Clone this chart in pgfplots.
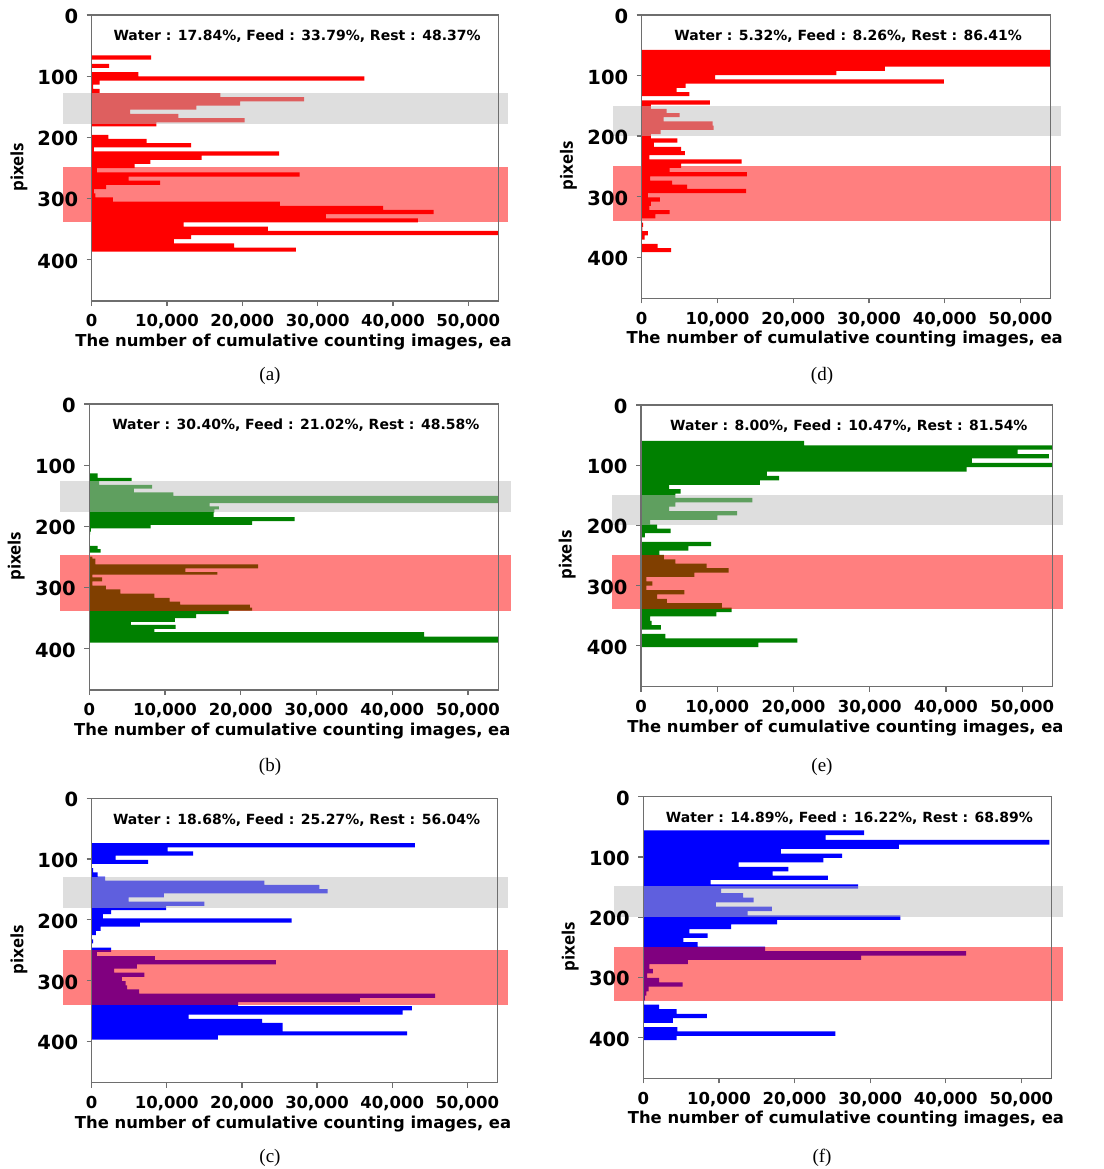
\documentclass[border=0pt]{standalone}
\usepackage{fontspec}
\setmainfont{DejaVu Sans}
\newfontfamily\labfont{Open Sans}
\newfontfamily\capfont{Liberation Serif}
\usepackage{pgfplots}
\usepackage{pgfplotstable}
\pgfplotsset{compat=1.18}
\definecolor{myred}{RGB}{255,0,0}
\definecolor{mygreen}{RGB}{0,128,0}
\definecolor{myblue}{RGB}{0,0,255}
\definecolor{bandgray}{RGB}{190,190,190}
\definecolor{axgray}{RGB}{110,110,110}

\pgfplotstableread{
y v
66.2 7900
73.0 0
79.9 2300
86.7 0
93.5 6200
100.3 36200
107.2 1050
114.0 200
120.8 1050
127.7 17100
134.5 28200
141.3 19700
148.2 13900
155.0 5100
161.8 11500
168.7 20300
175.5 8600
182.3 0
189.2 0
196.0 2200
202.8 7300
209.7 13200
216.5 300
223.3 24900
230.2 14600
237.0 7800
243.8 5700
250.7 700
257.5 27600
264.3 4900
271.2 9100
278.0 1900
284.8 300
291.7 500
298.5 2800
305.3 25000
312.2 38700
319.0 45400
325.8 31100
332.7 43300
339.5 12200
346.3 23400
353.2 54000
360.0 13200
366.8 10900
373.7 18900
380.5 27100
387.3 0
}\tabA

\pgfplotstableread{
y v
113.7 1100
120.8 5600
126.3 1300
132.4 8300
138.4 5900
144.5 11100
150.5 54000
162.1 15900
167.6 17100
172.5 16500
177.5 16400
185.2 27100
191.8 21500
197.9 8100
203.4 200
208.9 100
213.8 0
232.0 1100
237.5 1500
243.0 0
249.6 400
252.9 800
262.3 22300
268.9 12700
274.9 16900
279.3 400
283.7 1700
290.3 400
297.0 2200
303.5 4100
310.1 8600
317.3 10600
323.3 12000
328.3 21200
333.3 21500
338.2 18400
343.7 14100
350.3 11300
356.4 5500
361.3 11400
367.9 8600
373.4 44200
380.6 54000
390.5 0
}\tabB

\pgfplotstableread{
y v
73.7 43000
80.6 10100
87.5 13500
94.4 3200
101.2 7500
108.1 0
115.0 200
121.9 800
128.8 1800
135.7 23000
142.6 30300
149.4 31400
156.3 9600
163.2 4900
170.1 15000
177.0 9900
183.9 2600
190.7 1500
197.6 26600
204.5 6400
211.4 1200
218.3 550
225.2 0
232.1 200
238.9 0
245.8 2600
252.7 700
259.6 8400
266.5 24500
273.4 6000
280.3 3000
287.1 7000
294.0 4000
300.9 4500
307.8 4700
314.7 6300
321.6 45700
328.4 35700
335.3 19500
342.2 42600
349.1 41400
356.0 12900
362.9 22700
369.8 25400
376.6 25400
383.5 42000
390.4 16800
397.3 0
}\tabC

\pgfplotstableread{
y v
57.5 54000
64.5 54000
71.4 54000
78.4 54000
85.4 32100
92.3 25700
99.3 9700
106.3 39900
113.2 5800
120.2 4600
127.2 6300
134.1 0
141.1 9000
148.0 1200
155.0 3300
162.0 5000
168.9 2900
175.9 9350
182.9 9500
189.8 2500
196.8 1200
203.8 4700
210.7 1600
217.7 5200
224.7 5700
231.6 1000
238.6 13200
245.6 5200
252.5 3700
259.5 13900
266.5 1100
273.4 4000
280.4 6000
287.3 13800
294.3 800
301.3 2400
308.2 1200
315.2 1000
322.2 3700
329.1 1800
336.1 0
343.1 200
350.0 100
357.0 800
364.0 400
370.9 0
377.9 2100
384.9 3900
391.8 0
}\tabD

\pgfplotstableread{
y v
59.6 21400
66.9 54000
74.2 49400
81.5 53500
88.8 43400
96.1 54000
103.3 42700
110.6 16500
117.9 18100
125.2 15600
132.5 3700
139.8 5200
147.1 4500
154.4 14600
161.7 4500
169.0 3700
176.2 12600
183.5 10000
190.8 1200
198.1 2100
205.4 3900
212.7 500
220.0 100
227.3 9200
234.6 6200
241.9 2400
249.1 3000
256.4 4500
263.7 8600
271.0 11500
278.3 7000
285.6 700
292.9 1500
300.2 700
307.5 5700
314.8 2100
322.0 3400
329.3 10600
336.6 11900
343.9 9900
351.2 1200
358.5 1400
365.8 2600
373.1 0
380.4 3200
387.7 20500
394.9 15400
402.2 0
}\tabE

\pgfplotstableread{
y v
56.1 29200
63.9 24100
71.7 53700
79.4 33800
86.7 18200
94.4 26300
101.7 23800
108.9 12600
116.7 19200
123.9 17100
131.1 24400
138.3 8900
145.6 28400
152.8 10300
160.0 13200
167.8 14600
175.6 9600
182.8 17000
190.0 13800
197.2 34000
204.4 17700
212.2 11600
220.0 6100
227.2 8500
234.4 5300
241.7 7200
248.9 16100
256.7 42700
263.9 28800
271.1 5900
278.3 800
286.1 1250
293.3 500
301.1 2100
308.3 5200
315.6 700
323.3 400
330.6 200
338.3 100
345.6 2100
352.8 4400
360.6 8400
367.8 3900
375.6 0
382.8 4500
390.0 25400
397.2 4400
404.4 0
}\tabF

\pgfplotsset{
  panel/.style={
    scale only axis,
    anchor=north west,
    xmin=0, xmax=54000, ymin=0, ymax=468,
    y dir=reverse,
    xtick={0,10000,20000,30000,40000,50000},
    ytick={0,100,200,300,400},
    scaled x ticks=false,
    tick pos=left,
    tick align=outside,
    major tick length=5pt,
    /pgf/number format/assume math mode=true,
    /pgf/number format/1000 sep={,},
    xticklabel style={font=\fontsize{16.5}{18}\selectfont\bfseries, yshift=-5pt},
    yticklabel style={font=\fontsize{19.5}{21}\selectfont\bfseries, xshift=-5pt, yshift=-1.5pt},
    axis line style={draw=axgray, line width=1.3pt},
    every tick/.style={draw=axgray, line width=1.2pt},
    clip=false,
    axis on top,
    xlabel={The number of cumulative counting images, ea},
    ylabel={pixels},
    xlabel style={font=\fontsize{16.4}{18}\selectfont\bfseries, at={(axis description cs:0.5,0)}, anchor=center, yshift=-41pt, xshift=-1.5pt},
    ylabel style={font=\labfont\fontsize{17}{19}\selectfont\bfseries, at={(axis description cs:-0.179,0.468)}, anchor=center},
  },
  bars/.style={xbar interval, fill=#1, draw=none},
  bandg/.style={draw=none, fill=bandgray, fill opacity=0.5},
  bandr/.style={draw=none, fill=myred, fill opacity=0.5},
}
\tikzset{
  anno/.style={font=\fontsize{14}{16}\selectfont\bfseries, anchor=center, yshift=-21.5pt, xshift=2pt},
  subcap/.style={font=\capfont\fontsize{19}{21}\selectfont},
}

\begin{document}
\begin{tikzpicture}
% (a)
\begin{axis}[panel, at={(91.7pt,-15pt)}, width=406.7pt, height=286pt]
\addplot[bars=myred] table[x=v, y=y] {\tabA};
\addplot[bandg] coordinates {(-3850,128) (55300,128) (55300,179) (-3850,179)} --cycle;
\addplot[bandr] coordinates {(-3850,248.6) (55300,248.6) (55300,339.3) (-3850,339.3)} --cycle;
\node[anno] at (axis description cs:0.5,1) {Water : 17.84\%, Feed : 33.79\%, Rest : 48.37\%};
\end{axis}
% (b)
\begin{axis}[panel, at={(89.3pt,-404pt)}, width=409pt, height=286pt]
\addplot[bars=mygreen] table[x=v, y=y] {\tabB};
\addplot[bandg] coordinates {(-3850,126.4) (55700,126.4) (55700,177) (-3850,177)} --cycle;
\addplot[bandr] coordinates {(-3850,247) (55700,247) (55700,338.6) (-3850,338.6)} --cycle;
\node[anno] at (axis description cs:0.5,1) {Water : 30.40\%, Feed : 21.02\%, Rest : 48.58\%};
\end{axis}
% (c)
\begin{axis}[panel, at={(91.7pt,-798.3pt)}, width=405.7pt, height=284.3pt]
\addplot[bars=myblue] table[x=v, y=y] {\tabC};
\addplot[bandg] coordinates {(-3850,129.6) (55400,129.6) (55400,180.6) (-3850,180.6)} --cycle;
\addplot[bandr] coordinates {(-3850,249.8) (55400,249.8) (55400,340.3) (-3850,340.3)} --cycle;
\node[anno] at (axis description cs:0.5,1) {Water : 18.68\%, Feed : 25.27\%, Rest : 56.04\%};
\end{axis}
% (d)
\begin{axis}[panel, at={(641.7pt,-15pt)}, width=409pt, height=283.3pt]
\addplot[bars=myred] table[x=v, y=y] {\tabD};
\addplot[bandg] coordinates {(-3850,150) (55300,150) (55300,200) (-3850,200)} --cycle;
\addplot[bandr] coordinates {(-3850,250) (55300,250) (55300,341) (-3850,341)} --cycle;
\node[anno] at (axis description cs:0.5,1) {Water : 5.32\%, Feed : 8.26\%, Rest : 86.41\%};
\end{axis}
% (e)
\begin{axis}[panel, at={(641pt,-405pt)}, width=411.7pt, height=281.7pt]
\addplot[bars=mygreen] table[x=v, y=y] {\tabE};
\addplot[bandg] coordinates {(-3800,149.3) (55400,149.3) (55400,199.6) (-3800,199.6)} --cycle;
\addplot[bandr] coordinates {(-3800,249) (55400,249) (55400,339) (-3800,339)} --cycle;
\node[anno] at (axis description cs:0.5,1) {Water : 8.00\%, Feed : 10.47\%, Rest : 81.54\%};
\end{axis}
% (f)
\begin{axis}[panel, at={(643.3pt,-796.7pt)}, width=408.3pt, height=281.7pt]
\addplot[bars=myblue] table[x=v, y=y] {\tabF};
\addplot[bandg] coordinates {(-3850,149) (55500,149) (55500,200) (-3850,200)} --cycle;
\addplot[bandr] coordinates {(-3850,249) (55500,249) (55500,339.4) (-3850,339.4)} --cycle;
\node[anno] at (axis description cs:0.5,1) {Water : 14.89\%, Feed : 16.22\%, Rest : 68.89\%};
\end{axis}
\node[subcap] at (270pt,-376pt) {(a)};
\node[subcap] at (270pt,-767pt) {(b)};
\node[subcap] at (270pt,-1158pt) {(c)};
\node[subcap] at (822pt,-376pt) {(d)};
\node[subcap] at (822pt,-767pt) {(e)};
\node[subcap] at (822pt,-1158pt) {(f)};
\pgfresetboundingbox
\path[use as bounding box] (0,0) rectangle (1103pt,-1169pt);
\end{tikzpicture}
\end{document}
